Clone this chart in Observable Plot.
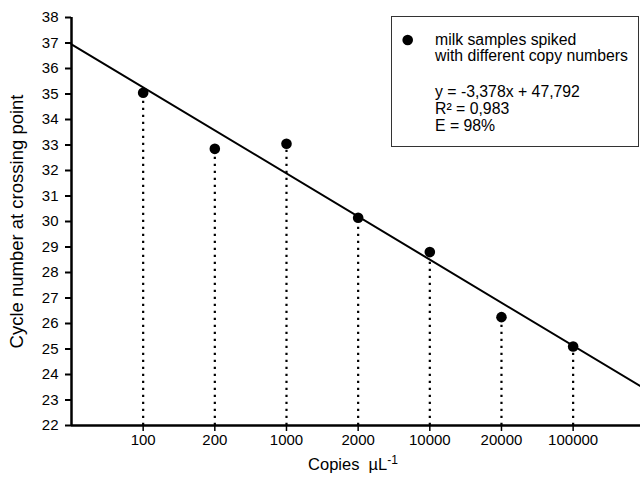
<!DOCTYPE html>
<html>
<head>
<meta charset="utf-8">
<script src="https://cdn.jsdelivr.net/npm/d3@7"></script>
<script src="https://cdn.jsdelivr.net/npm/@observablehq/plot@0.6"></script>
<style>
  html, body { margin: 0; padding: 0; background: #fff; }
  #wrap { position: relative; width: 640px; height: 479px; overflow: hidden; font-family: "Liberation Sans", Arial, sans-serif; }
  #legend { position: absolute; left: 391px; top: 16px; width: 248px; height: 131px; box-sizing: border-box; border: 1.8px solid #333; background: #fff; }
  #legend svg { position: absolute; left: 0; top: 0; }
</style>
</head>
<body>
<div id="wrap"></div>
<script>
// ---- data ----
const categories = ["100", "200", "1000", "2000", "10000", "20000", "100000"];
const ctValues = [35.05, 32.85, 33.05, 30.15, 28.8, 26.25, 25.1];
// regression line as drawn (end points at the frame edges, category-index units)
const fitX = [-1, 6.94];
const fitY = [36.95, 23.54];
const yTicks = [22, 23, 24, 25, 26, 27, 28, 29, 30, 31, 32, 33, 34, 35, 36, 37, 38];
const yLabel = "Cycle number at crossing point";
const xLabelMain = "Copies  µL";
const xLabelSup = "-1";
const legendLines = ["milk samples spiked", "with different copy numbers", "", "y = -3,378x + 47,792", "R² = 0,983", "E = 98%"];

const pts = categories.map((c, i) => ({i, c, v: ctValues[i]}));
const fit = fitX.map((x, k) => ({x, y: fitY[k]}));

const chart = Plot.plot({
  width: 640,
  height: 479,
  marginLeft: 71,
  marginRight: 0,
  marginTop: 17,
  marginBottom: 54,
  style: {fontFamily: "'Liberation Sans', Arial, sans-serif", fontSize: "15px", color: "#000", background: "#fff", overflow: "visible"},
  x: {type: "linear", domain: [-1, 6.94]},
  y: {domain: [22, 38]},
  marks: [
    Plot.ruleX(pts, {x: "i", y1: 22, y2: "v", stroke: "#000", strokeWidth: 2.2, strokeDasharray: "2.2,4.8"}),
    Plot.line(fit, {x: "x", y: "y", stroke: "#000", strokeWidth: 2}),
    Plot.dot(pts, {x: "i", y: "v", r: 5.3, fill: "#000", stroke: "none"}),
    Plot.axisY({ticks: yTicks, tickSize: 6, tickPadding: 7, strokeWidth: 2, label: null, tickFormat: d => String(d)}),
    Plot.axisX({ticks: pts.map(d => d.i), tickFormat: i => categories[i], tickSize: 6, tickPadding: 3, strokeWidth: 1.5, label: null}),
    Plot.ruleX([-1], {stroke: "#000", strokeWidth: 2.5}),
    Plot.ruleY([22], {stroke: "#000", strokeWidth: 2.5}),
    Plot.text([yLabel], {frameAnchor: "left", rotate: -90, dx: -54, textAnchor: "middle", fontSize: 18.5}),
    Plot.text([xLabelMain], {frameAnchor: "bottom", dy: 44, dx: -3, fontSize: 16.5, className: "xlab"})
  ]
});

const wrap = document.getElementById("wrap");
wrap.appendChild(chart);

// add the superscript to the x-axis title
d3.select(chart).selectAll("g.xlab text").each(function() {
  d3.select(this).append("tspan")
    .attr("dy", "-0.5em")
    .attr("font-size", 12)
    .text(xLabelSup);
});

// legend box
const legend = document.createElement("div");
legend.id = "legend";
wrap.appendChild(legend);
const lsvg = d3.select(legend).append("svg").attr("width", 248).attr("height", 131);
lsvg.append("circle").attr("cx", 15.7).attr("cy", 23).attr("r", 5.3).attr("fill", "#000");
const baselines = [28, 44, 0, 79.5, 96.5, 114];
legendLines.forEach((t, k) => {
  if (!t) return;
  lsvg.append("text")
    .attr("x", 43).attr("y", baselines[k])
    .attr("font-family", "'Liberation Sans', Arial, sans-serif")
    .attr("font-size", 15.8)
    .attr("fill", "#000")
    .text(t);
});
</script>
</body>
</html>
